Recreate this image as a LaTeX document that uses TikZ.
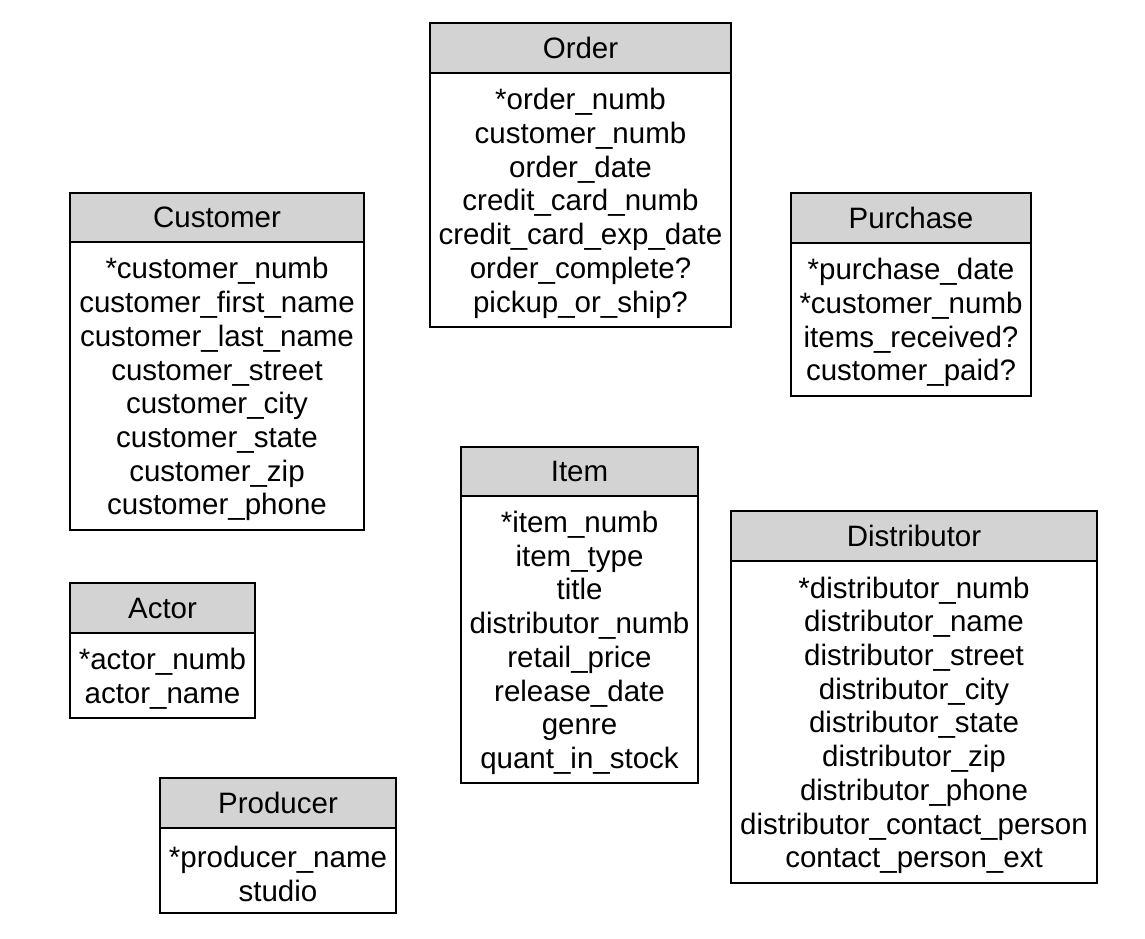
\documentclass[tikz,border=0pt]{standalone}
\usepackage{fontspec}
\setmainfont{Liberation Sans}
\definecolor{hdrgray}{RGB}{211,211,211}
\tikzset{
  boxbase/.style={draw=black, line width=1.3pt, inner sep=0pt, outer sep=0pt, anchor=north west,
    font=\fontsize{29.5}{33.7}\selectfont, align=center, text=black},
  hdrbox/.style={boxbase, fill=hdrgray},
  bodybox/.style={boxbase, fill=white}
}
\newcommand\entity[8]{%
  \node[hdrbox, minimum width={#3pt-#2pt}, minimum height={#5pt-#4pt}] (#1h) at (#2,#4) {#7};
  \node[bodybox, minimum width={#3pt-#2pt}, minimum height={#6pt-#5pt}] (#1b) at (#2,#5) {\rule{0pt}{28pt}#8};
}
\begin{document}
\begin{tikzpicture}[x=1pt,y=-1pt]
\useasboundingbox (0,0) rectangle (1145,938);
\entity{order}{430}{731}{23}{73}{327}{Order}{*order\_numb\\customer\_numb\\order\_date\\credit\_card\_numb\\credit\_card\_exp\_date\\order\_complete?\\pickup\_or\_ship?}
\entity{customer}{70}{364}{193}{242}{530}{Customer}{*customer\_numb\\customer\_first\_name\\customer\_last\_name\\customer\_street\\customer\_city\\customer\_state\\customer\_zip\\customer\_phone}
\entity{purchase}{791}{1031}{193}{243}{396}{Purchase}{*purchase\_date\\*customer\_numb\\items\_received?\\customer\_paid?}
\entity{item}{461}{698}{447}{496}{783}{Item}{*item\_numb\\item\_type\\title\\distributor\_numb\\retail\_price\\release\_date\\genre\\quant\_in\_stock}
\entity{distributor}{731}{1097}{511}{561}{883}{Distributor}{*distributor\_numb\\distributor\_name\\distributor\_street\\distributor\_city\\distributor\_state\\distributor\_zip\\distributor\_phone\\distributor\_contact\_person\\contact\_person\_ext}
\entity{actor}{70}{255}{583}{633}{718}{Actor}{*actor\_numb\\actor\_name}
\entity{producer}{160}{396}{778}{828}{913}{Producer}{*producer\_name\\studio}
\end{tikzpicture}
\end{document}
